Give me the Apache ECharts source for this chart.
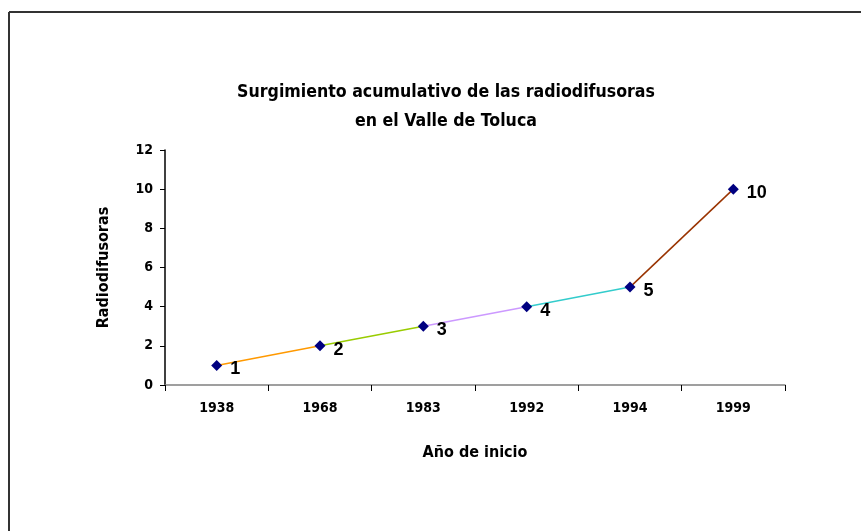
<!DOCTYPE html>
<html>
<head>
	<meta charset="utf-8">
	<title>radiodifusoras</title>
	<style>
		body { margin: 0; padding: 0; background: #fff; }
		#main { width: 861px; height: 531px; }
	</style>
</head>
<body>
	<div id="main"></div>
	<script src="https://cdn.jsdelivr.net/npm/echarts@6/dist/echarts.min.js"></script>
	<script type="text/javascript">
		// datos
		var years = ['1938', '1968', '1983', '1992', '1994', '1999'];
		var totals = [1, 2, 3, 4, 5, 10];
		var segColors = ['#FF9900', '#99CC00', '#CC99FF', '#33CCCC', '#993300'];
		var yTicks = [0, 2, 4, 6, 8, 10, 12];

		var font = '"DejaVu Sans Condensed", "Arial Narrow", Arial, sans-serif';
		var myChart = echarts.init(document.getElementById('main'));

		// un tramo por color
		var series = [];
		for (var i = 0; i < totals.length - 1; i++) {
			var d = [];
			for (var j = 0; j < totals.length; j++) {
				d.push(j == i || j == i + 1 ? totals[j] : null);
			}
			series.push({
				type: 'line', data: d, showSymbol: false, silent: true,
				lineStyle: { color: segColors[i], width: 1.5 }
			});
		}
		series.push({
			type: 'scatter', data: totals, symbol: 'diamond', symbolSize: 11,
			itemStyle: { color: '#000080', opacity: 1 },
			label: {
				show: true, position: 'right', distance: 8, offset: [0, 4],
				color: '#000', fontWeight: 700, fontSize: 18, fontFamily: '"Liberation Sans", Arial, sans-serif',
				textBorderWidth: 0, opacity: 1
			},
			z: 5
		});

		myChart.setOption({
			animation: false,
			title: {
				text: 'Surgimiento acumulativo de las radiodifusoras\nen el Valle de Toluca',
				left: 441, top: 73, textAlign: 'center',
				textStyle: { fontFamily: font, fontSize: 17.6, fontWeight: 'bold', color: '#000', lineHeight: 29 }
			},
			graphic: [
				{ type: 'line', shape: { x1: 9, y1: 12, x2: 861, y2: 12 }, style: { stroke: '#333', lineWidth: 2 } },
				{ type: 'line', shape: { x1: 9, y1: 12, x2: 9, y2: 531 }, style: { stroke: '#333', lineWidth: 2 } }
			],
			grid: { left: 165, right: 76, top: 150, bottom: 146 },
			xAxis: {
				type: 'category', data: years, boundaryGap: true,
				name: 'Año de inicio', nameLocation: 'middle', nameGap: 60,
				nameTextStyle: { fontFamily: font, fontSize: 16, fontWeight: 'bold', color: '#000' },
				axisLine: { lineStyle: { color: '#808080', width: 1.5 } },
				axisTick: { show: true, length: 6, lineStyle: { color: '#000' } },
				axisLabel: { fontFamily: font, fontSize: 14, fontWeight: 'bold', color: '#000', margin: 16 }
			},
			yAxis: {
				type: 'value', min: 0, max: 12, interval: 2,
				name: 'Radiodifusoras', nameLocation: 'middle', nameGap: 53,
				nameTextStyle: { fontFamily: font, fontSize: 16, fontWeight: 'bold', color: '#000' },
				axisLine: { show: true, lineStyle: { color: '#000', width: 1.5 } },
				axisTick: { show: true, length: 5, lineStyle: { color: '#000' } },
				axisLabel: {
					fontFamily: font, fontSize: 14, fontWeight: 'bold', color: '#000', margin: 12,
					formatter: function (v) { return yTicks.indexOf(v) >= 0 ? v : ''; }
				},
				splitLine: { show: false }
			},
			series: series
		});
	</script>
</body>
</html>
